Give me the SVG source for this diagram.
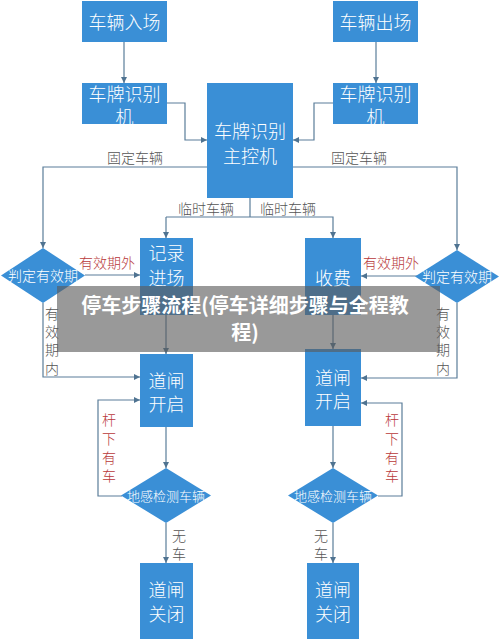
<svg xmlns="http://www.w3.org/2000/svg" width="500" height="639" viewBox="0 0 500 639">
<defs>
<marker id="ah" viewBox="0 0 10 10" refX="10" refY="5" markerWidth="6" markerHeight="6" orient="auto" markerUnits="userSpaceOnUse"><path d="M0,0 L10,5 L0,10 z" fill="#4f7391"/></marker>
<style>
.box{fill:#3a8fd6;}
.bt{fill:#fff;font-family:"Noto Sans CJK SC","Noto Sans",sans-serif;font-size:18px;font-weight:300;text-anchor:middle;dominant-baseline:central;}
.dt{fill:#fff;font-family:"Noto Sans CJK SC","Noto Sans",sans-serif;font-size:14px;font-weight:300;text-anchor:middle;dominant-baseline:central;}
.lb{fill:#555;font-family:"Noto Sans CJK SC","Noto Sans",sans-serif;font-size:14px;font-weight:300;text-anchor:middle;dominant-baseline:central;}
.rd{fill:#b8383a;font-family:"Noto Sans CJK SC","Noto Sans",sans-serif;font-size:14px;font-weight:300;text-anchor:middle;dominant-baseline:central;}
.ln{fill:none;stroke:#5a7d99;stroke-width:1.2;}
.ar{marker-end:url(#ah);}
</style>
</defs>
<rect width="500" height="639" fill="#fff"/>
<g id="connectors">
<path class="ln ar" d="M124,42 V83"/>
<path class="ln ar" d="M376,42 V83"/>
<path class="ln ar" d="M167,103 H185 V140 H207"/>
<path class="ln ar" d="M333,103 H314 V140 H293"/>
<path class="ln ar" d="M207,167 H43 V248"/>
<path class="ln ar" d="M293,167 H457 V250"/>
<path class="ln" d="M250,198 V217"/>
<path class="ln ar" d="M166,217 H333 V238"/>
<path class="ln ar" d="M166,217 V238"/>
<path class="ln ar" d="M85,275 H140"/>
<path class="ln ar" d="M418,276 H361"/>
<path class="ln ar" d="M43,303 V377 H140"/>
<path class="ln ar" d="M457,303 V378 H361"/>
<path class="ln ar" d="M166,315 V354"/>
<path class="ln ar" d="M333,315 V349"/>
<path class="ln ar" d="M166,427 V468"/>
<path class="ln ar" d="M333,426 V468"/>
<path class="ln ar" d="M122,496 H98 V400 H140"/>
<path class="ln ar" d="M378,496 H402 V403 H361"/>
<path class="ln ar" d="M166,523 V563"/>
<path class="ln ar" d="M333,523 V563"/>
</g>
<g id="labels">
<text class="lb" x="135" y="157">固定车辆</text>
<text class="lb" x="359" y="157">固定车辆</text>
<text class="lb" x="206" y="208">临时车辆</text>
<text class="lb" x="288" y="208">临时车辆</text>
<text class="rd" x="107" y="262">有效期外</text>
<text class="rd" x="391" y="262">有效期外</text>
<g><text class="lb" x="52" y="313">有</text><text class="lb" x="52" y="331">效</text><text class="lb" x="52" y="349">期</text><text class="lb" x="52" y="368">内</text></g>
<g><text class="lb" x="443" y="313">有</text><text class="lb" x="443" y="331">效</text><text class="lb" x="443" y="349">期</text><text class="lb" x="443" y="368">内</text></g>
<g><text class="rd" x="109" y="419">杆</text><text class="rd" x="109" y="438">下</text><text class="rd" x="109" y="457">有</text><text class="rd" x="109" y="475">车</text></g>
<g><text class="rd" x="392" y="419">杆</text><text class="rd" x="392" y="438">下</text><text class="rd" x="392" y="457">有</text><text class="rd" x="392" y="475">车</text></g>
<g><text class="lb" x="179" y="535">无</text><text class="lb" x="179" y="553">车</text></g>
<g><text class="lb" x="321" y="535">无</text><text class="lb" x="321" y="553">车</text></g>
</g>
<g id="n-entry"><rect class="box" x="82" y="1" width="85" height="41"/><text class="bt" x="124.5" y="21">车辆入场</text></g>
<g id="n-exit"><rect class="box" x="333" y="1" width="85" height="41"/><text class="bt" x="375.5" y="21">车辆出场</text></g>
<g id="n-cam-l"><rect class="box" x="82" y="83" width="85" height="41"/><text class="bt" x="124.5" y="93">车牌识别</text><text class="bt" x="124.5" y="116">机</text></g>
<g id="n-cam-r"><rect class="box" x="333" y="83" width="85" height="41"/><text class="bt" x="375.5" y="93">车牌识别</text><text class="bt" x="375.5" y="116">机</text></g>
<g id="n-main"><rect class="box" x="207" y="83" width="86" height="115"/><text class="bt" x="250" y="130">车牌识别</text><text class="bt" x="250" y="155">主控机</text></g>
<g id="n-judge-l"><polygon class="box" points="43,248 85,275.5 43,303 1,275.5"/><text class="dt" x="43" y="275">判定有效期</text></g>
<g id="n-judge-r"><polygon class="box" points="457,250 499,276.5 457,303 415,276.5"/><text class="dt" x="457" y="276">判定有效期</text></g>
<g id="n-record"><rect class="box" x="140" y="238" width="53" height="77"/><text class="bt" x="166.5" y="252">记录</text><text class="bt" x="166.5" y="277">进场</text></g>
<g id="n-fee"><rect class="box" x="305" y="238" width="56" height="77"/><text class="bt" x="333" y="277">收费</text></g>
<g id="n-open-l"><rect class="box" x="140" y="354" width="53" height="73"/><text class="bt" x="166.5" y="380">道闸</text><text class="bt" x="166.5" y="403">开启</text></g>
<g id="n-open-r"><rect class="box" x="305" y="349" width="56" height="77"/><text class="bt" x="333" y="377">道闸</text><text class="bt" x="333" y="400">开启</text></g>
<g id="n-sense-l"><polygon class="box" points="166,468 211,495.5 166,523 121,495.5"/><text class="dt" x="166" y="495" style="font-size:13px">地感检测车辆</text></g>
<g id="n-sense-r"><polygon class="box" points="333,468 378,495.5 333,523 288,495.5"/><text class="dt" x="333" y="495" style="font-size:13px">地感检测车辆</text></g>
<g id="n-close-l"><rect class="box" x="140" y="563" width="53" height="76"/><text class="bt" x="166.5" y="589">道闸</text><text class="bt" x="166.5" y="613">关闭</text></g>
<g id="n-close-r"><rect class="box" x="307" y="563" width="52" height="76"/><text class="bt" x="333" y="589">道闸</text><text class="bt" x="333" y="613">关闭</text></g>
<g id="banner">
<rect x="57" y="286" width="383" height="66" fill="#5a5a5a" fill-opacity="0.62"/>
<text x="245" y="304" fill="#fff" font-family="'Noto Sans CJK SC','Noto Sans',sans-serif" font-size="20" font-weight="bold" text-anchor="middle" dominant-baseline="central">停车步骤流程(停车详细步骤与全程教</text>
<text x="245" y="331" fill="#fff" font-family="'Noto Sans CJK SC','Noto Sans',sans-serif" font-size="20" font-weight="bold" text-anchor="middle" dominant-baseline="central">程)</text>
</g>
</svg>
